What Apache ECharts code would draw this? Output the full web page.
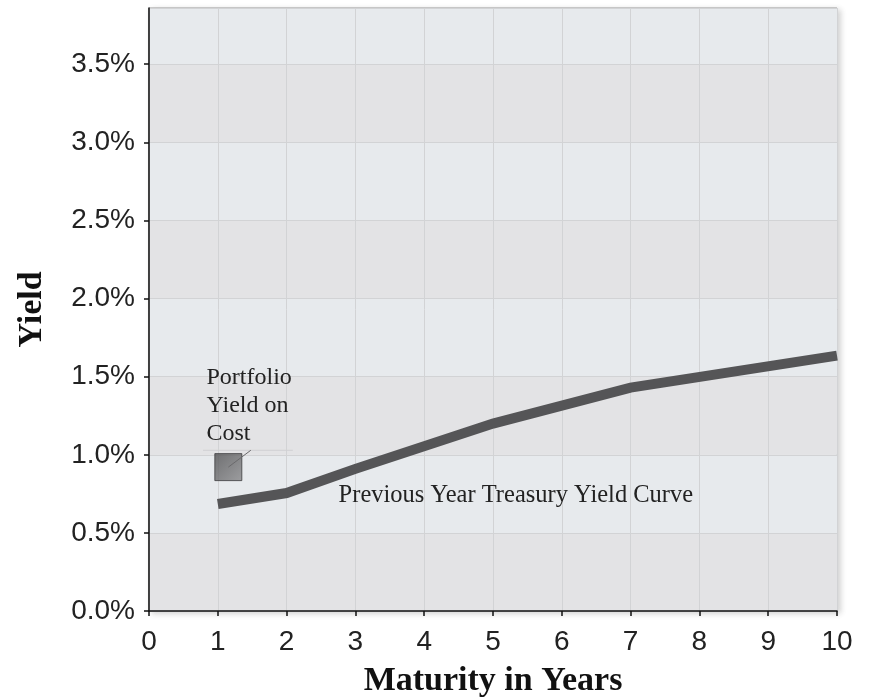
<!DOCTYPE html>
<html>
<head>
<meta charset="utf-8">
<script src="https://cdn.jsdelivr.net/npm/echarts@6/dist/echarts.min.js"></script>
<style>
  html, body { margin: 0; padding: 0; background: #ffffff; }
  #chart { width: 873px; height: 699px; }
</style>
</head>
<body>
<div id="chart"></div>
<script>
// Treasury curve: maturity (years) and yield (%)
const maturities = [1, 2, 3, 5, 7, 10];
const treasuryYields = [0.685, 0.755, 0.91, 1.2, 1.43, 1.635];

// Portfolio yield on cost
const portfolioPoint = [1.153, 0.921];

// Axis ranges and ticks
const xTicks = [0, 10, 1];
const yTicks = [0, 3.86, 0.5];

// Annotation anchors (data coordinates)
const portfolioLabelAt = [0.843, 1.311];
const portfolioLeader = [[1.153, 0.921], [1.48, 1.029]];
const portfolioRule = [[0.785, 1.029], [2.09, 1.029]];
const curveLabelAt = [2.763, 0.735];

const serif = '"Liberation Serif", "DejaVu Serif", serif';
const sans = '"Liberation Sans", Arial, sans-serif';

const chart = echarts.init(document.getElementById('chart'), null, { renderer: 'canvas' });

chart.setOption({
  animation: false,
  backgroundColor: '#ffffff',
  grid: {
    left: 149, right: 36, top: 8, bottom: 88,
    outerBoundsMode: 'none',
    containLabel: false,
    show: true,
    backgroundColor: '#e5e7ea',
    borderColor: '#9a9a9a',
    borderWidth: 1,
    shadowColor: 'rgba(0,0,0,0.18)',
    shadowBlur: 6,
    shadowOffsetX: 3,
    shadowOffsetY: 2
  },
  xAxis: {
    type: 'value',
    min: xTicks[0], max: xTicks[1], interval: xTicks[2],
    name: 'Maturity in Years',
    nameLocation: 'middle',
    nameGap: 53,
    nameTextStyle: { fontFamily: serif, fontWeight: 'bold', fontSize: 34, color: '#111' },
    axisLine: { show: true, onZero: false, lineStyle: { color: '#111', width: 1.5 } },
    axisTick: { show: true, length: 5, lineStyle: { color: '#111', width: 1.5 } },
    axisLabel: { margin: 17, fontFamily: sans, fontSize: 28, color: '#222' },
    splitLine: { show: true, lineStyle: { color: '#d2d3d5', width: 1 } }
  },
  yAxis: {
    type: 'value',
    min: yTicks[0], max: yTicks[1], interval: yTicks[2],
    name: 'Yield',
    nameLocation: 'middle',
    nameGap: 100,
    nameTextStyle: { fontFamily: serif, fontWeight: 'bold', fontSize: 34, color: '#111' },
    axisLine: { show: true, lineStyle: { color: '#111', width: 1.5 } },
    axisTick: { show: true, length: 5, lineStyle: { color: '#111', width: 1.5 } },
    axisLabel: {
      margin: 14, fontFamily: sans, fontSize: 28, color: '#222',
      showMaxLabel: false,
      formatter: v => v.toFixed(1) + '%'
    },
    splitLine: { show: true, lineStyle: { color: '#d2d3d5', width: 1 } },
    splitArea: { show: true, areaStyle: { color: ['#e3e3e5', '#e7eaed'] } }
  },
  series: [
    {
      name: 'Previous Year Treasury Yield Curve',
      type: 'line',
      data: maturities.map((m, i) => [m, treasuryYields[i]]),
      symbol: 'none',
      lineStyle: { color: '#555557', width: 10, cap: 'butt', join: 'miter' },
      z: 3,
      markPoint: {
        symbol: 'circle',
        symbolSize: 1,
        itemStyle: { color: 'transparent' },
        label: {
          show: true,
          position: [0, 0],
          align: 'left',
          verticalAlign: 'middle',
          fontFamily: serif,
          fontSize: 24.5,
          color: '#222',
          formatter: 'Previous Year Treasury Yield Curve'
        },
        data: [{ coord: curveLabelAt }]
      }
    },
    {
      name: 'Leader rule',
      type: 'line',
      data: portfolioRule,
      symbol: 'none',
      lineStyle: { color: '#d0d0d2', width: 1 },
      z: 2
    },
    {
      name: 'Leader',
      type: 'line',
      data: portfolioLeader,
      symbol: 'none',
      lineStyle: { color: '#6a6a6c', width: 1 },
      z: 5
    },
    {
      name: 'Portfolio Yield on Cost',
      type: 'scatter',
      data: [portfolioPoint],
      symbol: 'rect',
      symbolSize: 27,
      itemStyle: {
        color: new echarts.graphic.LinearGradient(0, 0, 1, 1, [
          { offset: 0, color: '#505052' },
          { offset: 1, color: '#8a8a8c' }
        ]),
        borderColor: '#3c3c3e',
        borderWidth: 1
      },
      z: 4,
      markPoint: {
        symbol: 'circle',
        symbolSize: 1,
        itemStyle: { color: 'transparent' },
        label: {
          show: true,
          position: [0, 0],
          align: 'left',
          verticalAlign: 'middle',
          fontFamily: serif,
          fontSize: 24,
          lineHeight: 28,
          color: '#222',
          formatter: 'Portfolio\nYield on\nCost'
        },
        data: [{ coord: portfolioLabelAt }]
      }
    }
  ]
});
</script>
</body>
</html>
